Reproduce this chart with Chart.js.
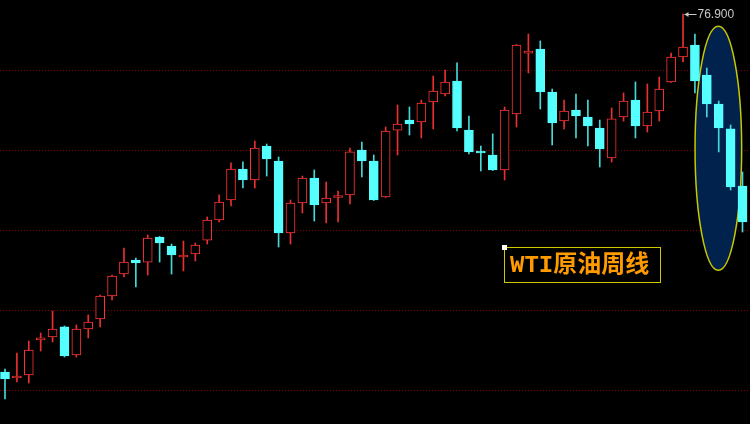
<!DOCTYPE html>
<html>
<head>
<meta charset="utf-8">
<script src="https://cdn.jsdelivr.net/npm/chart.js@4.4.1/dist/chart.umd.min.js"></script>
<style>
  html, body { margin: 0; padding: 0; background: #000; }
  #wrap { position: relative; width: 750px; height: 424px; background: #000; }
</style>
</head>
<body>
<div id="wrap"><canvas id="c"></canvas></div>
<script>
// Weekly candles (WTI crude, weekly)
const weeks = ['W01','W02','W03','W04','W05','W06','W07','W08','W09','W10',
  'W11','W12','W13','W14','W15','W16','W17','W18','W19','W20',
  'W21','W22','W23','W24','W25','W26','W27','W28','W29','W30',
  'W31','W32','W33','W34','W35','W36','W37','W38','W39','W40',
  'W41','W42','W43','W44','W45','W46','W47','W48','W49','W50',
  'W51','W52','W53','W54','W55','W56','W57','W58','W59','W60',
  'W61','W62','W63'];
const open  = [44.35,43.81,44.08,47.26,47.54,48.45,45.90,48.26,49.17,51.26,
  53.26,54.54,54.35,56.63,55.81,54.81,55.08,56.35,58.17,59.99,
  62.81,61.81,64.90,63.54,56.99,59.72,61.99,59.72,60.22,60.45,
  64.54,63.54,60.26,66.35,67.26,67.08,68.90,69.63,70.81,66.35,
  64.36,64.08,62.72,67.81,73.35,73.72,69.81,67.17,68.17,67.54,
  66.54,63.81,67.54,69.08,66.72,68.08,70.72,72.99,74.08,71.35,
  68.72,66.45,61.26];
const high  = [44.63,46.08,47.17,47.90,49.90,48.54,48.63,49.54,51.35,53.17,
  55.63,54.72,56.81,56.68,55.99,56.26,56.08,58.45,60.45,63.36,
  63.45,65.35,65.08,63.90,59.99,62.17,62.72,61.63,60.81,64.72,
  65.26,64.08,66.63,68.63,68.45,69.08,71.26,71.81,72.45,67.63,
  64.90,66.00,68.45,74.13,75.08,74.45,70.08,69.08,69.63,69.08,
  67.26,68.36,69.72,70.72,70.54,71.17,73.35,76.90,75.08,71.99,
  68.99,66.81,62.54];
const low   = [41.90,43.45,43.35,46.26,47.08,45.72,45.72,47.45,48.45,50.90,
  52.99,52.08,53.17,54.35,53.26,53.54,54.45,55.99,57.99,59.45,
  61.08,61.08,62.17,55.72,55.99,58.81,58.08,57.90,57.99,59.63,
  62.08,59.95,60.22,64.08,65.90,65.63,66.45,69.45,66.26,64.17,
  62.63,62.67,61.81,66.63,71.54,68.26,64.99,66.45,65.63,64.90,
  62.99,63.45,67.17,65.63,66.17,67.17,70.67,72.54,69.72,67.54,
  64.36,60.90,57.08];
const close = [43.72,43.90,46.35,47.45,48.26,45.81,48.26,48.90,51.26,53.08,
  54.35,54.26,56.54,56.08,54.99,54.85,55.90,58.17,59.81,62.81,
  61.81,64.72,63.72,56.99,59.72,61.99,59.54,60.17,60.26,64.36,
  63.54,59.99,66.26,66.90,66.90,68.81,69.90,70.72,66.54,64.36,
  64.26,62.72,68.17,74.08,73.54,69.81,66.99,68.08,67.63,66.72,
  64.63,67.36,68.99,66.72,67.99,70.08,72.99,73.90,70.81,68.72,
  66.54,61.17,57.99];
const gridLevels = [42.68, 49.95, 57.22, 64.49, 71.76];
const peakLabel = '76.900';
const boxLabel = 'WTI原油周线';

const UP = '#ff3434', DOWN = '#55ffff';
const UP_WICK = '#e83030', DOWN_WICK = '#44d8d8';
const isUp = open.map((o, i) => close[i] >= o);

const wickData = weeks.map((w, i) => ({ x: i, y: [low[i], high[i]] }));
const bodyData = weeks.map((w, i) => ({ x: i, y: [open[i], close[i]] }));

const overlay = {
  id: 'overlay',
  beforeDatasetsDraw(chart) {
    const { ctx, scales: { x, y } } = chart;
    // ellipse around the last weeks
    const cx = x.getPixelForValue(59.97);
    const cy = y.getPixelForValue(64.69);
    ctx.save();
    ctx.beginPath();
    ctx.ellipse(cx, cy, 23.3, 122, 0, 0, Math.PI * 2);
    ctx.fillStyle = '#01224c';
    ctx.fill();
    ctx.lineWidth = 1.5;
    ctx.strokeStyle = '#c8c800';
    ctx.stroke();
    ctx.restore();
  },
  afterDraw(chart) {
    const { ctx, scales: { x, y } } = chart;
    const iMax = high.indexOf(Math.max(...high));
    const px = Math.round(x.getPixelForValue(iMax)) + 0.5;
    const py = Math.round(y.getPixelForValue(high[iMax])) + 0.5;
    ctx.save();
    // arrow
    ctx.strokeStyle = '#c8c8c8';
    ctx.fillStyle = '#c8c8c8';
    ctx.lineWidth = 1;
    ctx.beginPath();
    ctx.moveTo(px + 1, py);
    ctx.lineTo(px + 13, py);
    ctx.stroke();
    ctx.beginPath();
    ctx.moveTo(px + 1, py);
    ctx.lineTo(px + 5, py - 2.5);
    ctx.lineTo(px + 5, py + 2.5);
    ctx.closePath();
    ctx.fill();
    ctx.font = '12px "Liberation Sans", Arial, sans-serif';
    ctx.textBaseline = 'middle';
    ctx.textAlign = 'left';
    ctx.fillText(peakLabel, px + 14, py + 0.5);

    // label box
    ctx.strokeStyle = '#d2c800';
    ctx.lineWidth = 1;
    ctx.strokeRect(504.5, 247.5, 156, 35);
    ctx.fillStyle = '#ffffff';
    ctx.fillRect(502, 245, 5, 5);
    ctx.fillStyle = '#ff9a00';
    ctx.font = 'bold 24px "Liberation Mono", "Noto Sans CJK SC", monospace';
    ctx.textBaseline = 'middle';
    ctx.fillText(boxLabel, 510, 266);
    ctx.restore();
  }
};

new Chart(document.getElementById('c'), {
  type: 'bar',
  data: {
    labels: weeks,
    datasets: [
      {
        label: 'wick',
        data: wickData,
        barThickness: 1,
        backgroundColor: isUp.map(u => u ? UP_WICK : DOWN_WICK),
        borderWidth: 0,
        grouped: false,
        order: 2
      },
      {
        label: 'body',
        data: bodyData,
        barThickness: 9,
        minBarLength: 2,
        backgroundColor: isUp.map(u => u ? '#000000' : DOWN),
        borderColor: isUp.map(u => u ? UP : DOWN),
        borderWidth: 1,
        borderSkipped: false,
        grouped: false,
        order: 1
      }
    ]
  },
  options: {
    responsive: true,
    maintainAspectRatio: false,
    animation: false,
    layout: { padding: 0 },
    plugins: { legend: { display: false }, tooltip: { enabled: false } },
    scales: {
      x: {
        type: 'linear',
        min: -0.42,
        max: 62.63,
        display: false,
        offset: false
      },
      y: {
        min: 39.6273,
        max: 78.1727,
        afterBuildTicks(scale) { scale.ticks = gridLevels.map(v => ({ value: v })); },
        afterFit(scale) { scale.width = 0; },
        ticks: { display: false },
        grid: { color: '#8a0000', lineWidth: 1, drawTicks: false },
        border: { display: false, dash: [1, 2] }
      }
    }
  },
  plugins: [overlay]
});
</script>
</body>
</html>
